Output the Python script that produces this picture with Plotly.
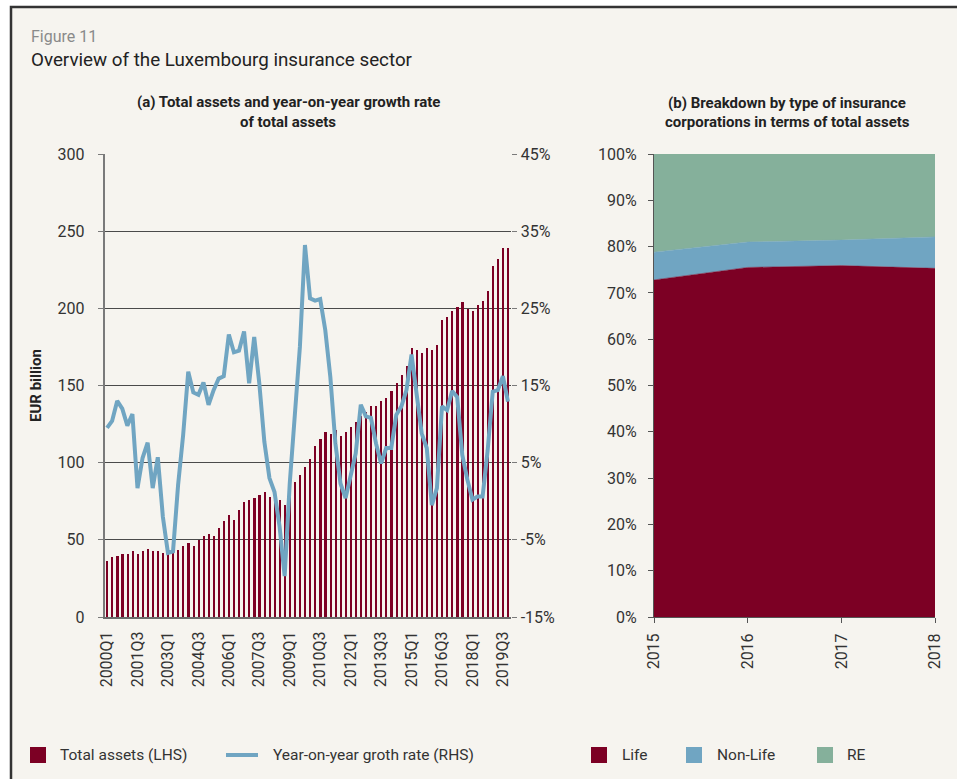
import plotly.graph_objects as go

W, H = 957, 779

# quarterly data, 2000Q1 - 2019Q4
quarters = [f"{y}Q{q}" for y in range(2000, 2020) for q in range(1, 5)]
total_assets = [
    36.3, 38.7, 39.5, 40.6, 40.6, 42.5, 40.6, 42.5, 43.8, 42.5,
    42.5, 41.5, 40.6, 41.5, 43.7, 46.0, 47.9, 46.0, 50.1, 52.3,
    54.0, 52.3, 57.7, 62.0, 66.1, 63.1, 69.3, 74.7, 75.8, 76.9,
    79.0, 81.0, 77.8, 78.0, 75.8, 72.6, 80.0, 87.5, 92.0, 97.2,
    102.4, 111.0, 115.3, 119.7, 118.6, 121.0, 117.5, 119.7, 122.9, 126.1,
    130.0, 132.6, 136.7, 136.7, 140.0, 142.1, 146.4, 151.4, 156.8, 162.6,
    174.1, 173.0, 171.3, 174.1, 173.0, 176.2, 192.4, 194.6, 198.5, 201.1,
    203.9, 199.6, 198.5, 202.2, 205.0, 211.5, 227.4, 231.8, 238.9, 238.9,
]
yoy_growth = [
    9.5, 10.4, 13.0, 12.0, 9.8, 11.3, 1.7, 5.6, 7.6, 1.7,
    5.7, -2.0, -6.7, -6.5, 2.1, 8.6, 16.8, 14.1, 13.8, 15.4,
    12.5, 14.4, 15.9, 16.2, 21.6, 19.3, 19.5, 22.0, 15.3, 21.3,
    15.3, 7.7, 3.0, 1.2, -3.3, -9.7, 2.3, 11.8, 20.0, 33.2,
    26.3, 26.0, 26.2, 22.2, 16.1, 7.5, 2.3, 0.4, 3.2, 6.2,
    12.5, 11.0, 10.8, 7.5, 4.9, 6.9, 6.9, 11.2, 12.3, 14.4,
    19.0, 13.5, 8.8, 6.9, -0.5, 1.7, 12.3, 11.8, 14.3, 13.5,
    6.0, 2.8, 0.2, 0.6, 0.6, 6.6, 14.2, 14.4, 16.2, 12.9,
]
growth_ticks = [-15, -5, 5, 15, 25, 35, 45]
growth_ticktext = ["-15%", "-5%", "5%", "15%", "25%", "35%", "45%"]

# annual breakdown (% of total assets)
years = [2015, 2016, 2017, 2018]
life = [72.8, 75.5, 75.9, 75.3]
non_life = [6.0, 5.5, 5.5, 6.8]
re = [21.2, 19.0, 18.6, 17.9]

RED = "#7c0024"
BLUE = "#70a5c2"
GREEN = "#85b09b"
BG = "#f6f4ef"
TXT = "#333333"
FONT = "Roboto, 'Open Sans', sans-serif"


def px(x):
    return x / W


def py(y):
    return 1 - y / H


fig = go.Figure()

# (a) bars + growth line
fig.add_trace(go.Bar(x=quarters, y=total_assets, marker_color=RED, marker_line_width=0,
                     width=0.32, name="Total assets (LHS)", showlegend=False))
fig.add_trace(go.Scatter(x=quarters, y=yoy_growth, yaxis="y2", mode="lines",
                         line=dict(color=BLUE, width=4), name="Year-on-year groth rate (RHS)",
                         showlegend=False))

# (b) stacked areas
for vals, nm, col in [(life, "Life", RED), (non_life, "Non-Life", BLUE), (re, "RE", GREEN)]:
    fig.add_trace(go.Scatter(x=years, y=vals, xaxis="x3", yaxis="y3", stackgroup="one",
                             mode="lines", line=dict(color=col, width=0.5), fillcolor=col,
                             name=nm, showlegend=False))

tickfont = dict(family=FONT, size=16, color=TXT)

fig.update_layout(
    width=W, height=H,
    margin=dict(l=0, r=0, t=0, b=0, pad=0, autoexpand=False),
    paper_bgcolor="white",
    plot_bgcolor="rgba(0,0,0,0)",
    font=dict(family=FONT, color=TXT),
    bargap=0,
    xaxis=dict(domain=[px(104.5), px(510.5)], type="category", automargin=False,
               tickvals=quarters[::6], tickangle=-90, tickfont=dict(family=FONT, size=16, color=TXT),
               showline=True, linecolor="#6b6b6b", linewidth=2, ticks="", showgrid=False,
               ticklabelstandoff=6, anchor="y"),
    yaxis=dict(domain=[py(617), py(154)], range=[0, 300], dtick=50, automargin=False,
               tickfont=tickfont, showline=True, linecolor="#7a7a7a", linewidth=1.5,
               ticks="outside", ticklen=5, tickcolor="#7a7a7a",
               showgrid=True, gridcolor="#4a4a4a", gridwidth=1, zeroline=False,
               ticklabelstandoff=10),
    yaxis2=dict(overlaying="y", side="right", anchor="x", range=[-15, 45], automargin=False,
                tickvals=growth_ticks, ticktext=growth_ticktext,
                tickfont=tickfont, showgrid=False, zeroline=False,
                ticks="outside", ticklen=5, tickcolor="#7a7a7a", ticklabelstandoff=1),
    xaxis3=dict(domain=[px(654), px(935)], anchor="y3", range=[2015, 2018], automargin=False,
                tickvals=years, tickformat="d", tickangle=-90,
                tickfont=dict(family=FONT, size=16, color=TXT),
                showline=True, linecolor="#555", linewidth=1, ticks="outside", ticklen=5,
                tickcolor="#555", showgrid=False, zeroline=False, ticklabelstandoff=4),
    yaxis3=dict(domain=[py(617), py(154)], anchor="x3", range=[0, 100], dtick=10, automargin=False,
                ticksuffix="%", tickfont=tickfont, showline=True, linecolor="#555",
                linewidth=1, ticks="outside", ticklen=5, tickcolor="#555",
                showgrid=False, zeroline=False, ticklabelstandoff=8),
)

# frame
fig.add_shape(type="rect", xref="paper", yref="paper", x0=px(11), x1=1.01, y0=-0.01, y1=py(7),
              fillcolor=BG, line=dict(color="#333", width=2.5), layer="below")

# titles
fig.add_annotation(x=px(29), y=py(36), xref="paper", yref="paper", xanchor="left", yanchor="middle",
                   text="Figure 11", showarrow=False, font=dict(size=16, color="#8a8a8a"))
fig.add_annotation(x=px(29), y=py(60), xref="paper", yref="paper", xanchor="left", yanchor="middle",
                   text="Overview of the Luxembourg insurance sector", showarrow=False,
                   font=dict(size=18.8, color="#222"))
for txt, xc, yc in [("(a) Total assets and year-on-year growth rate", 288, 102),
                    ("of total assets", 288, 122),
                    ("(b) Breakdown by type of insurance", 787, 103),
                    ("corporations in terms of total assets", 787, 122)]:
    fig.add_annotation(x=px(xc), y=py(yc), xref="paper", yref="paper", xanchor="center",
                       yanchor="middle", text=f"<b>{txt}</b>", showarrow=False,
                       font=dict(size=15, color="#222"))
fig.add_annotation(x=px(36), y=py(386), xref="paper", yref="paper", xanchor="center",
                   yanchor="middle", text="<b>EUR billion</b>", textangle=-90, showarrow=False,
                   font=dict(size=15, color="#222"))

# legend row
def swatch(x0, col):
    fig.add_shape(type="rect", xref="paper", yref="paper", x0=px(x0), x1=px(x0 + 16),
                  y0=py(763), y1=py(747), fillcolor=col, line_width=0)


def label(x, txt):
    fig.add_annotation(x=px(x), y=py(755), xref="paper", yref="paper", xanchor="left",
                       yanchor="middle", text=txt, showarrow=False, font=dict(size=15.5, color=TXT))


swatch(30, RED)
label(58, "Total assets (LHS)")
fig.add_shape(type="line", xref="paper", yref="paper", x0=px(226), x1=px(258), y0=py(755), y1=py(755),
              line=dict(color=BLUE, width=4))
label(271, "Year-on-year groth rate (RHS)")
swatch(591, RED)
label(620, "Life")
swatch(686, BLUE)
label(715, "Non-Life")
swatch(817, GREEN)
label(845, "RE")

# page body has a default 8px margin; drop it so the figure sits at the window origin
fig.write_html("out.html", config={"displayModeBar": False},
               post_script="document.body.style.margin='0';")
